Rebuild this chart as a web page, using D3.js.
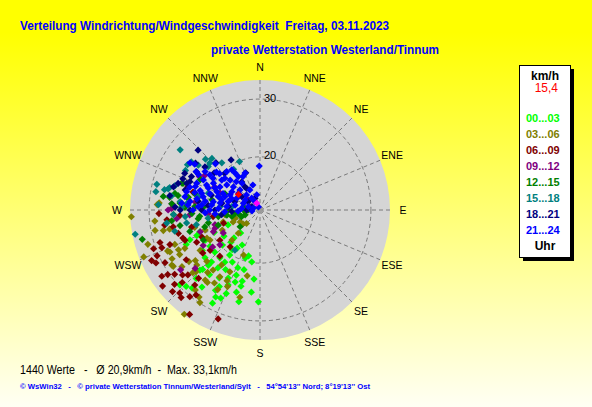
<!DOCTYPE html>
<html>
<head>
<meta charset="utf-8">
<script src="https://cdn.jsdelivr.net/npm/d3@7"></script>
<style>
  html, body { margin: 0; padding: 0; background: #fff; }
  svg { display: block; }
  text { font-family: "Liberation Sans", Arial, sans-serif; white-space: pre; }
</style>
</head>
<body>
<svg id="chart" width="592" height="407"></svg>
<script>
// ---------- data ----------
const titleLine1 = "Verteilung Windrichtung/Windgeschwindigkeit  Freitag, 03.11.2023";
const titleLine2 = "private Wetterstation Westerland/Tinnum";
const summaryText = "1440 Werte   -   Ø 20,9km/h  -  Max. 33,1km/h";
const footerText = "© WsWin32   -   © private Wetterstation Tinnum/Westerland/Sylt   -   54°54'13'' Nord; 8°19'13'' Ost";
const directionLabels = ["N","NNE","NE","ENE","E","ESE","SE","SSE","S","SSW","SW","WSW","W","WNW","NW","NNW"];
const ringTicks = [20, 30];
const speedDomain = [10.8, 33.3];
const legendUnit = "km/h";
const currentSpeedLabel = "15,4";
const hourGroups = ["00...03","03...06","06...09","09...12","12...15","15...18","18...21","21...24"];
const legendFooter = "Uhr";

// [direction in degrees, speed in km/h]
const h00_03 = [[245,16.9],[220,16.0],[222,18.3],[207,17.6],[211,18.5],[194,19.0],[189,19.9],[201,21.5],[185,22.8],[194,23.5],[199,24.0],[194,24.4],[186,25.1],[196,25.6],[181,26.7],[193,27.1],[202,26.4],[204,27.5],[207,27.7],[207,28.9],[205,23.8],[217,27.5],[224,29.2],[221,28.7],[227,29.8],[224,25.1],[209,26.7],[208,25.8],[241,21.6],[234,21.5],[227,21.5],[220,21.6],[214,21.7],[223,23.1],[229,23.4],[216,23.2],[210,22.7],[214,20.2],[227,19.7],[208,21.0],[218,25.0],[211,24.5],[225,25.5],[244,19.6],[234,18.5],[215,19.2],[197,19.5],[195,21.5],[203,24.9],[200,22.8],[247,24.0],[248,22.6],[245,24.9],[250,21.9],[235,23.0],[223,23.9],[223,27.0],[223,17.4]];
const h03_06 = [[253,31.1],[248,32.5],[238,28.8],[246,28.3],[259,29.3],[258,27.9],[216,33.1],[191,22.4],[193,26.3],[203,25.2],[212,25.7],[216,26.3],[267,33.1],[273,28.6],[274,28.3],[264,29.1],[236,23.3],[226,23.6],[218,24.0],[215,22.4],[206,22.7],[208,26.4],[205,24.3],[218,26.2],[226,26.2],[234,26.0],[241,26.7],[243,25.4],[248,26.7],[255,22.5],[250,20.9],[200,19.1],[223,17.9],[239,20.9],[242,18.2],[252,15.3],[239,14.8],[242,21.2],[252,17.5],[246,15.9],[231,14.6],[258,26.8],[262,16.9],[241,28.2],[234,27.5],[232,25.0],[227,26.7],[220,24.9],[229,25.3],[211,24.3],[215,29.2],[219,28.6],[244,26.5],[245,28.0],[237,28.7],[213,29.9],[225,14.1],[223,16.3]];
const h06_09 = [[250,30.4],[249,29.0],[245,31.5],[246,30.3],[241,29.6],[235,30.3],[236,31.3],[233,29.3],[232,32.2],[227,31.5],[224,30.8],[229,30.4],[227,29.2],[219,30.1],[214,32.6],[230,28.3],[264,27.0],[217,29.2],[221,28.0],[201,31.0],[222,31.2],[243,31.0],[252,29.0],[268,28.3],[259,26.1],[261,27.5],[250,25.0],[245,21.9],[288,23.9],[285,22.8],[248,24.8],[243,23.1],[256,23.0],[233,23.2],[231,21.9],[233,19.5],[236,26.2],[222,26.7],[228,27.6],[249,27.5],[254,25.5],[250,17.5],[262,19.0],[266,24.7],[221,21.4],[219,19.0]];
const h09_12 = [[233,28.0],[302,22.1],[271,26.1],[264,25.3],[250,21.8],[245,19.7],[248,19.2],[288,12.6],[288,16.3],[266,19.8],[277,22.1],[297,19.6],[299,22.8],[293,18.3],[252,19.0],[238,18.3],[232,21.2],[228,25.9],[229,20.0],[270,26.7],[274,26.1],[310,13.5],[238,22.4],[266,23.0]];
const h12_15 = [[289,24.9],[278,27.7],[256,31.8],[274,26.1],[280,25.2],[272,23.8],[267,22.6],[262,21.6],[256,20.0],[261,18.1],[270,16.3],[262,15.2],[263,13.4],[270,12.8],[273,20.6],[273,22.1],[282,19.3],[295,17.5],[280,23.4],[281,25.8],[267,25.8],[259,24.9],[253,23.5],[253,20.8],[250,18.5],[257,15.8],[250,14.2],[275,24.7],[280,23.7],[284,22.4],[278,26.6],[263,26.2],[281,13.7],[292,12.3],[252,13.5],[260,14.6],[261,16.6],[289,25.1],[297,22.4],[264,21.3],[242,21.9],[230,15.3]];
const h15_18 = [[307,28.1],[302,25.6],[305,25.3],[284,29.2],[280,29.1],[282,27.7],[284,26.9],[286,26.1],[273,28.4],[317,23.0],[313,22.7],[306,24.0],[337,19.9],[327,19.2],[259,32.8],[313,23.7],[310,22.5],[298,25.4],[283,27.1],[279,26.3],[276,24.7],[275,23.5],[282,21.7],[288,20.2],[288,18.4],[275,17.7],[277,15.7],[265,23.8],[257,22.1],[261,19.9],[321,21.3],[267,25.8],[262,27.1],[256,26.0],[212,19.0],[260,23.7],[272,24.4]];
const h18_21 = [[314,25.7],[317,22.0],[306,24.6],[330,20.8],[339,17.7],[292,25.2],[328,15.2],[309,21.0],[316,19.6],[327,16.6],[337,13.0],[292,23.9],[301,23.6],[308,22.9],[296,25.3],[296,24.0],[279,26.6],[327,15.6],[306,14.7],[288,15.4],[280,17.5],[276,16.3],[305,13.3],[292,12.3],[270,13.1],[270,18.6],[270,20.9],[270,22.9],[270,24.6],[272,25.5],[267,15.7],[263,17.5],[287,19.6],[285,24.2],[288,25.7],[278,21.6],[275,19.8],[285,26.3],[290,24.3]];
const h21_24 = [[359,18.4],[338,17.7],[316,21.9],[304,25.4],[305,24.6],[301,23.7],[327,17.7],[325,19.3],[312,19.0],[311,20.8],[305,21.4],[298,21.9],[293,22.7],[288,23.6],[284,23.9],[285,22.5],[288,21.7],[295,21.0],[300,20.1],[300,18.8],[307,18.0],[311,16.9],[315,15.7],[318,14.3],[325,13.3],[329,12.5],[333,11.4],[284,12.0],[286,12.9],[292,13.9],[297,15.3],[297,16.6],[294,17.8],[293,18.9],[288,19.9],[283,20.9],[280,21.9],[277,23.0],[279,20.4],[280,19.0],[285,17.7],[285,16.5],[281,15.2],[275,14.0],[276,16.6],[272,18.0],[270,19.5],[275,20.9],[304,20.6],[308,19.2],[315,18.1],[320,17.2],[326,16.4],[300,23.1],[305,22.4],[312,20.2],[319,19.6],[326,18.5],[333,14.7],[280,24.0],[275,24.4],[290,22.7],[288,18.4],[291,17.3],[303,16.6],[308,15.5],[304,13.9],[293,20.5],[296,19.5],[286,21.3],[292,16.1],[280,17.8],[276,19.2],[273,21.5],[333,17.3],[344,15.3],[348,13.5],[274,23.3],[270,22.4],[267,20.3],[265,18.6],[267,16.9],[267,14.6],[263,12.2]];
const lastValue = [[334,12.1]];
const currentValue = [[306,15.4]];

const seriesList = [h00_03, h03_06, h06_09, h09_12, h12_15, h15_18, h18_21, h21_24];

// ---------- styles ----------
const groupColors = ["#00ff00","#808000","#800000","#800080","#008000","#008080","#000080","#0000ff"];
const W = 592, H = 407;
const cx = 260, cy = 210, R = 130;

const svg = d3.select("#chart");
const defs = svg.append("defs");
const grad = defs.append("linearGradient").attr("id","bg").attr("x1",0).attr("y1",0).attr("x2",0).attr("y2",1);
grad.append("stop").attr("offset","0").attr("stop-color","#ffff00");
grad.append("stop").attr("offset","0.08").attr("stop-color","#ffff00");
grad.append("stop").attr("offset","1").attr("stop-color","#fffff4");
svg.append("rect").attr("width",W).attr("height",H).attr("fill","url(#bg)");

// titles
svg.append("text").attr("x",20).attr("y",30).attr("fill","#0000ff")
  .attr("font-size",13).attr("font-weight","bold")
  .attr("textLength",369).attr("lengthAdjust","spacingAndGlyphs").text(titleLine1);
svg.append("text").attr("x",211).attr("y",54).attr("fill","#0000ff")
  .attr("font-size",13).attr("font-weight","bold")
  .attr("textLength",228).attr("lengthAdjust","spacingAndGlyphs").text(titleLine2);

// polar
const rScale = d3.scaleLinear().domain(speedDomain).range([0, R]);
const angScale = d3.scaleLinear().domain([0, 360]).range([0, 2*Math.PI]);
const px = (d) => cx + rScale(d[1]) * Math.sin(angScale(d[0]));
const py = (d) => cy - rScale(d[1]) * Math.cos(angScale(d[0]));

const g = svg.append("g");
g.append("circle").attr("cx",cx).attr("cy",cy).attr("r",R).attr("fill","#d5d5d5");

const dirAngles = directionLabels.map((_, i) => i * 360 / directionLabels.length);
g.selectAll("line.spoke").data(dirAngles).join("line").attr("class","spoke")
  .attr("x1",cx).attr("y1",cy)
  .attr("x2",a => cx + R*Math.sin(angScale(a)))
  .attr("y2",a => cy - R*Math.cos(angScale(a)))
  .attr("stroke","#7a7a7a").attr("stroke-width",1).attr("stroke-dasharray","4,3");

g.selectAll("circle.ring").data(ringTicks).join("circle").attr("class","ring")
  .attr("cx",cx).attr("cy",cy).attr("r",d => rScale(d))
  .attr("fill","none").attr("stroke","#7a7a7a").attr("stroke-width",1).attr("stroke-dasharray","4,3");

g.append("rect").attr("x",cx-2.5).attr("y",cy-2.5).attr("width",5).attr("height",5).attr("fill","#9a9a9a");

g.selectAll("text.ringlab").data(ringTicks).join("text").attr("class","ringlab")
  .attr("x",cx+4).attr("y",d => cy - rScale(d) + 2.5)
  .attr("font-size",11).attr("fill","#000").text(d => d);

const labR = 143;
g.selectAll("text.dir").data(directionLabels).join("text").attr("class","dir")
  .attr("x",(d,i) => cx + labR*Math.sin(angScale(dirAngles[i])))
  .attr("y",(d,i) => cy - labR*Math.cos(angScale(dirAngles[i])))
  .attr("text-anchor","middle").attr("dominant-baseline","central")
  .attr("font-size",10.5).attr("fill","#000").text(d => d);

// points
const diamond = d3.symbol().type(d3.symbolSquare).size(26)();
seriesList.forEach((series, i) => {
  g.append("g").selectAll("path").data(series).join("path")
    .attr("d", diamond)
    .attr("transform", d => `translate(${px(d)},${py(d)}) rotate(45)`)
    .attr("fill", groupColors[i]);
});
g.append("g").selectAll("path").data(lastValue).join("path")
  .attr("d", diamond).attr("transform", d => `translate(${px(d)},${py(d)}) rotate(45)`)
  .attr("fill", "#ff00ff");
g.append("g").selectAll("path").data(currentValue).join("path")
  .attr("d", diamond).attr("transform", d => `translate(${px(d)},${py(d)}) rotate(45)`)
  .attr("fill", "#ff0000");

// legend
const lg = svg.append("g");
lg.append("rect").attr("x",523).attr("y",69).attr("width",51).attr("height",192).attr("fill","#000");
lg.append("rect").attr("x",519.5).attr("y",65.5).attr("width",51).attr("height",192)
  .attr("fill","#fff").attr("stroke","#000").attr("stroke-width",1);
lg.append("text").attr("x",545).attr("y",79.5).attr("text-anchor","middle")
  .attr("font-size",12).attr("font-weight","bold").attr("fill","#000").text(legendUnit);
lg.append("text").attr("x",558).attr("y",92).attr("text-anchor","end")
  .attr("font-size",12).attr("fill","#ff0000").text(currentSpeedLabel);
lg.selectAll("text.item").data(hourGroups).join("text").attr("class","item")
  .attr("x",526).attr("y",(d,i) => 122 + i*16)
  .attr("font-size",11).attr("font-weight","bold")
  .attr("fill",(d,i) => groupColors[i]).text(d => d);
lg.append("text").attr("x",545).attr("y",250).attr("text-anchor","middle")
  .attr("font-size",12).attr("font-weight","bold").attr("fill","#000").text(legendFooter);

// bottom texts
svg.append("text").attr("x",20).attr("y",373.5).attr("font-size",12).attr("fill","#000")
  .attr("textLength",217).attr("lengthAdjust","spacingAndGlyphs").text(summaryText);
svg.append("text").attr("x",20).attr("y",389).attr("font-size",8).attr("font-weight","bold").attr("fill","#0000ff")
  .attr("textLength",350).attr("lengthAdjust","spacingAndGlyphs").text(footerText);
</script>
</body>
</html>
